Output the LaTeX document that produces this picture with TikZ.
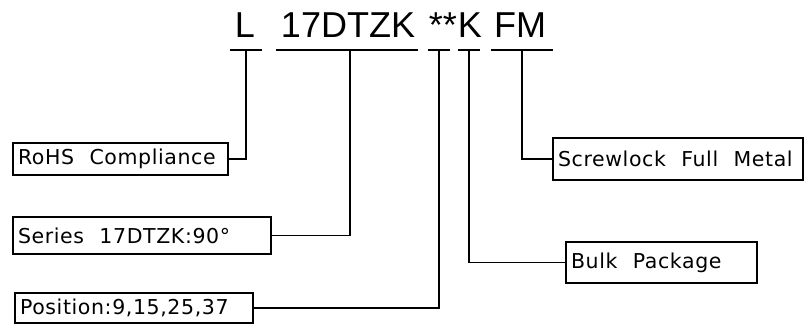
\documentclass[tikz,border=0pt]{standalone}
\usepackage{fontspec}
\setmainfont{Liberation Sans}
\newfontfamily\labfont[LetterSpace=3]{DejaVu Sans}
\begin{document}
\begin{tikzpicture}[x=1pt,y=-1pt,line width=1.6pt,
  title/.style={font=\fontsize{36}{36}\selectfont,inner sep=0pt,anchor=base},
  lbox/.style={draw,font=\labfont\fontsize{20.5}{20.5}\selectfont,inner xsep=5pt,inner ysep=0pt,align=left},
  wire/.style={line width=1.6pt}]
\useasboundingbox (0,0) rectangle (809,334);
% title
\node[title] (tL) at (245,38) {L};
\node[title] (tS) at (348,38) {17DTZK};
\node[title] (tA) at (443,38) {**};
\node[title] (tK) at (470,38) {K};
\node[title] (tF) at (520,38) {FM};
% underline tick points
\coordinate (uL) at (246,50);
\coordinate (uS) at (350,50);
\coordinate (uA) at (439,50);
\coordinate (uK) at (469,50);
\coordinate (uF) at (522,50);
\draw[wire] (230,50) -- (262,50);
\draw[wire] (276,50) -- (418,50);
\draw[wire] (428,50) -- (450,50);
\draw[wire] (458,50) -- (480,50);
\draw[wire] (491,50) -- (553,50);
% boxes
\node[lbox,minimum width=215pt,minimum height=32pt,text width=205pt] (rohs) at (120.5,159) {RoHS\hspace{0.75em}Compliance};
\node[lbox,minimum width=258pt,minimum height=37pt,text width=248pt] (series) at (142,235.5) {Series\hspace{0.75em}17DTZK:90°};
\node[lbox,minimum width=238pt,minimum height=30pt,text width=228pt] (pos) at (134,308) {Position:9,15,25,37};
\node[lbox,minimum width=250pt,minimum height=42pt,text width=240pt] (screw) at (678,159) {Screwlock\hspace{0.75em}Full\hspace{0.75em}Metal};
\node[lbox,minimum width=191pt,minimum height=41pt,text width=181pt] (bulk) at (661.5,262.5) {Bulk\hspace{0.75em}Package};
% connectors
\draw[wire] (rohs.east) -| (uL);
\draw[wire] (series.east) -| (uS);
\draw[wire] (pos.east) -| (uA);
\draw[wire] (bulk.west) -| (uK);
\draw[wire] (screw.west) -| (uF);
\end{tikzpicture}
\end{document}
